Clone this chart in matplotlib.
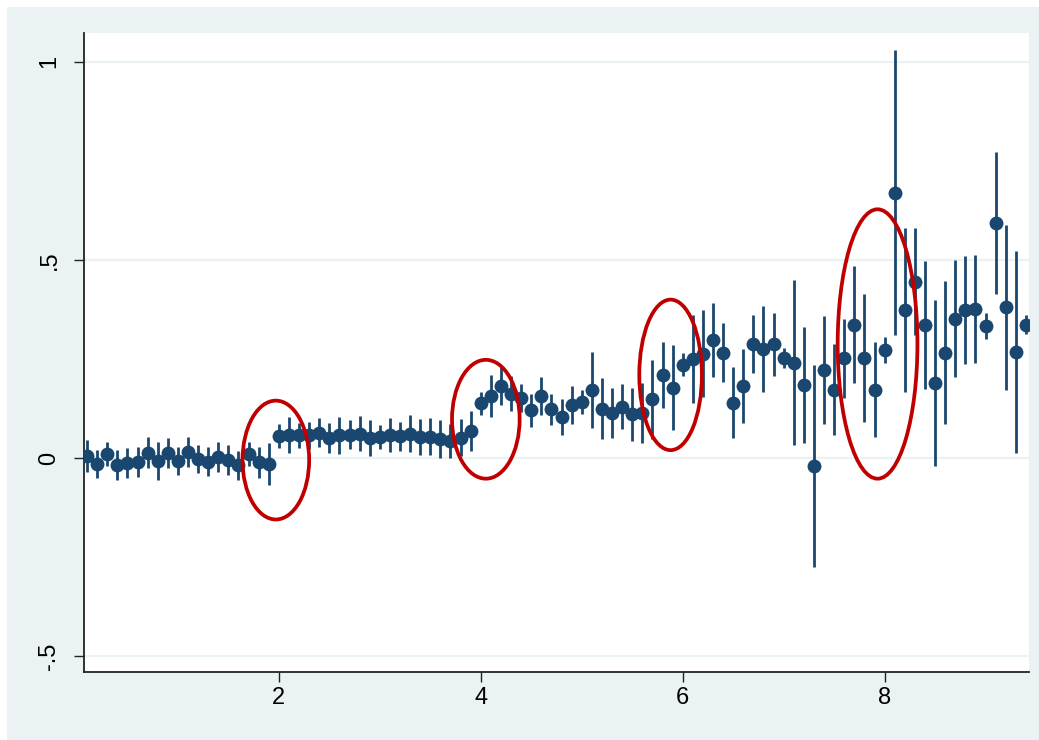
import matplotlib
matplotlib.use("Agg")
import matplotlib.pyplot as plt
from matplotlib.patches import Ellipse, Rectangle

plt.rcParams['font.family'] = ['Liberation Sans', 'DejaVu Sans']

bins = [i / 10 for i in range(1, 95)]

coef = [
    0.005, -0.015, 0.010, -0.018, -0.012, -0.009, 0.014, -0.007, 0.013, -0.007,
    0.016, -0.002, -0.009, 0.002, -0.005, -0.018, 0.010, -0.011, -0.015, 0.056,
    0.059, 0.057, 0.057, 0.064, 0.051, 0.057, 0.059, 0.062, 0.050, 0.053,
    0.058, 0.055, 0.062, 0.054, 0.054, 0.048, 0.043, 0.051, 0.068, 0.138,
    0.157, 0.182, 0.163, 0.152, 0.121, 0.157, 0.123, 0.104, 0.135, 0.142,
    0.173, 0.125, 0.113, 0.130, 0.111, 0.114, 0.148, 0.209, 0.178, 0.236,
    0.250, 0.263, 0.298, 0.266, 0.140, 0.182, 0.289, 0.276, 0.287, 0.252,
    0.241, 0.184, -0.020, 0.222, 0.173, 0.252, 0.337, 0.253, 0.173, 0.273,
    0.670, 0.373, 0.445, 0.336, 0.189, 0.266, 0.352, 0.373, 0.377, 0.333,
    0.593, 0.381, 0.267, 0.337,
]

ci_half = [
    0.040, 0.036, 0.030, 0.038, 0.038, 0.038, 0.038, 0.048, 0.038, 0.035,
    0.038, 0.035, 0.036, 0.038, 0.038, 0.037, 0.030, 0.040, 0.054, 0.030,
    0.045, 0.032, 0.035, 0.037, 0.038, 0.046, 0.036, 0.044, 0.046, 0.030,
    0.043, 0.037, 0.046, 0.045, 0.046, 0.047, 0.042, 0.047, 0.050, 0.030,
    0.053, 0.048, 0.044, 0.035, 0.042, 0.048, 0.040, 0.045, 0.048, 0.030,
    0.096, 0.076, 0.063, 0.057, 0.067, 0.076, 0.100, 0.083, 0.108, 0.030,
    0.110, 0.110, 0.093, 0.074, 0.089, 0.093, 0.073, 0.108, 0.080, 0.025,
    0.208, 0.147, 0.255, 0.137, 0.115, 0.100, 0.147, 0.161, 0.121, 0.033,
    0.360, 0.207, 0.135, 0.161, 0.209, 0.181, 0.147, 0.136, 0.136, 0.033,
    0.180, 0.208, 0.255, 0.023,
]

# highlighted regions (center x, center y, width, height)
circ_x = [1.97, 4.05, 5.88, 7.93]
circ_y = [-0.005, 0.098, 0.210, 0.288]
circ_w = [0.66, 0.67, 0.62, 0.79]
circ_h = [0.30, 0.30, 0.38, 0.68]

xticks = [2, 4, 6, 8]
yticks = [-0.5, 0, 0.5, 1]
yticklabels = ["-.5", "0", ".5", "1"]

BG = "#eaf2f3"
NAVY = "#1a476f"

fig = plt.figure(figsize=(10.39, 7.40), dpi=100)
fig.patch.set_facecolor("white")
fig.patches.append(Rectangle((7 / 1039, 0), 1, 733 / 740, transform=fig.transFigure,
                             facecolor=BG, edgecolor="none", zorder=-10))

ax = fig.add_axes([84 / 1039, 68 / 740, 945 / 1039, 639 / 740])
ax.set_zorder(1)
ax.set_facecolor("white")

ax.errorbar(bins, coef, yerr=ci_half, fmt="o", color=NAVY, ecolor=NAVY,
            elinewidth=2.0, markersize=10, markeredgewidth=0, capsize=0, zorder=3)

for cx, cy, w, h in zip(circ_x, circ_y, circ_w, circ_h):
    ax.add_patch(Ellipse((cx, cy), w, h, fill=False, edgecolor="#c00000",
                         linewidth=2.7, zorder=4))

ax.set_xlim(0.07, 9.43)
ax.set_ylim(-0.540, 1.073)
ax.set_xticks(xticks)
ax.set_xticklabels([str(t) for t in xticks])
ax.set_yticks(yticks)
ax.set_yticklabels(yticklabels)

ax.yaxis.grid(True, color=BG, linewidth=1.6, zorder=0)
ax.xaxis.grid(False)
ax.set_axisbelow(True)

for s in ["top", "right"]:
    ax.spines[s].set_visible(False)
for s in ["left", "bottom"]:
    ax.spines[s].set_color("#222222")
    ax.spines[s].set_linewidth(1.3)

ax.tick_params(axis="both", direction="out", length=7, width=1.0, color="#222222",
               labelsize=17, labelcolor="black")
ax.tick_params(axis="x", pad=4)
ax.tick_params(axis="y", pad=10, labelrotation=90)
for lab in ax.get_yticklabels():
    lab.set_verticalalignment("center")

fig.savefig("out.png", dpi=100, facecolor=fig.get_facecolor())
